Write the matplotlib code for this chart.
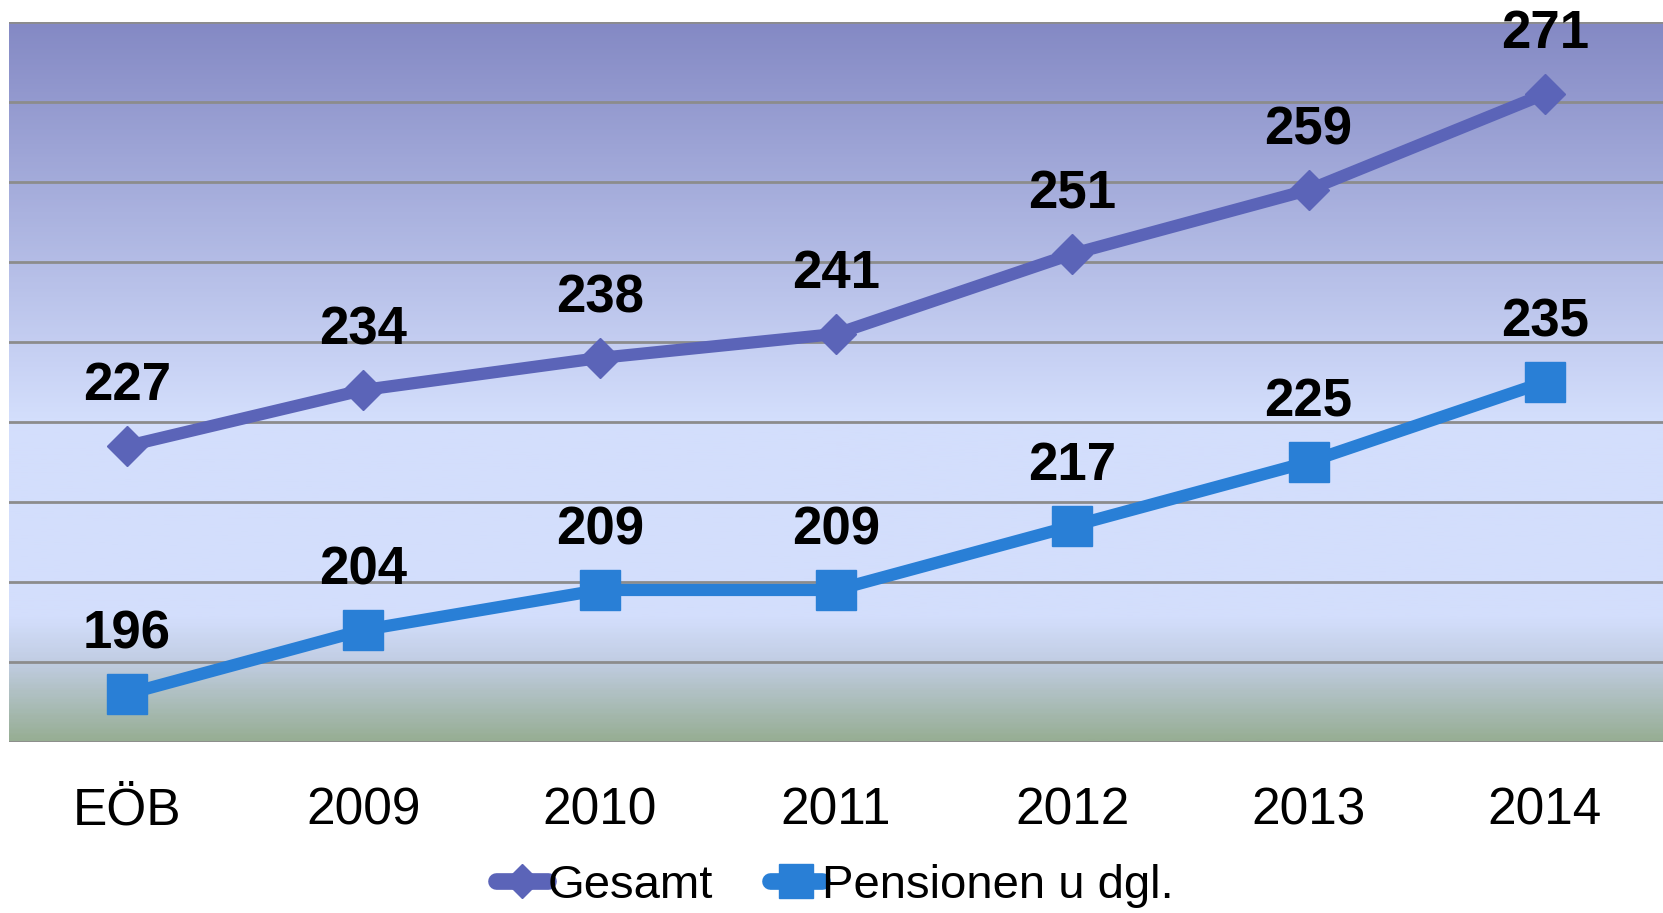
import matplotlib
matplotlib.use("Agg")
import matplotlib.pyplot as plt
import numpy as np
from matplotlib.colors import LinearSegmentedColormap

# data
categories = ["EÖB", "2009", "2010", "2011", "2012", "2013", "2014"]
gesamt = [227, 234, 238, 241, 251, 259, 271]
pensionen = [196, 204, 209, 209, 217, 225, 235]

c_gesamt = "#5B64B8"
c_pens = "#297FD6"

plt.rcParams['font.family'] = ['Liberation Sans', 'DejaVu Sans']

fig = plt.figure(figsize=(16.63, 9.13), dpi=100)
ax = fig.add_axes([0.0054, 0.1873, 0.9946, 0.7887])

x = np.arange(len(categories))
ax.set_xlim(-0.5, 6.5)
ax.set_ylim(190, 280)

# background gradient (bottom -> top)
grad = LinearSegmentedColormap.from_list("bg", [
    (0.0, "#97AE94"),
    (0.11, "#C1CDE3"),
    (0.17, "#D3DEFC"),
    (0.45, "#D3DEFC"),
    (1.0, "#8489C4"),
])
ax.imshow(np.linspace(0, 1, 400).reshape(-1, 1), cmap=grad, origin="lower",
          extent=[-0.5, 6.5, 190, 280], aspect="auto", zorder=0)

# grid
for yv in range(190, 281, 10):
    ax.axhline(yv, color="#8C8C8C", lw=2, zorder=1)

for s in ax.spines.values():
    s.set_visible(False)

ax.plot(x, gesamt, color=c_gesamt, lw=8.8, marker="D", ms=20,
        label="Gesamt", zorder=3, solid_capstyle="round")
ax.plot(x, pensionen, color=c_pens, lw=8.8, marker="s", ms=29,
        label="Pensionen u dgl.", zorder=3, solid_capstyle="round")

for xi, v in zip(x, gesamt):
    ax.annotate(str(v), (xi, v), xytext=(0, 25), textcoords="offset points",
                ha="center", va="bottom", fontsize=38, fontweight="bold",
                annotation_clip=False, zorder=4)
for xi, v in zip(x, pensionen):
    ax.annotate(str(v), (xi, v), xytext=(0, 25), textcoords="offset points",
                ha="center", va="bottom", fontsize=38, fontweight="bold",
                annotation_clip=False, zorder=4)

ax.set_xticks(x)
ax.set_xticklabels(categories, fontsize=37)
ax.tick_params(axis="x", length=0, pad=32)
ax.set_yticks([])

leg = fig.legend(loc="center", bbox_to_anchor=(0.502, 0.03), ncol=2,
                 frameon=False, handlelength=1.1, handletextpad=0.0,
                 columnspacing=1.2, markerscale=0.85,
                 prop={"size": 34})
for ln in leg.get_lines():
    ln.set_linewidth(12)

fig.savefig("out.png", dpi=100)
